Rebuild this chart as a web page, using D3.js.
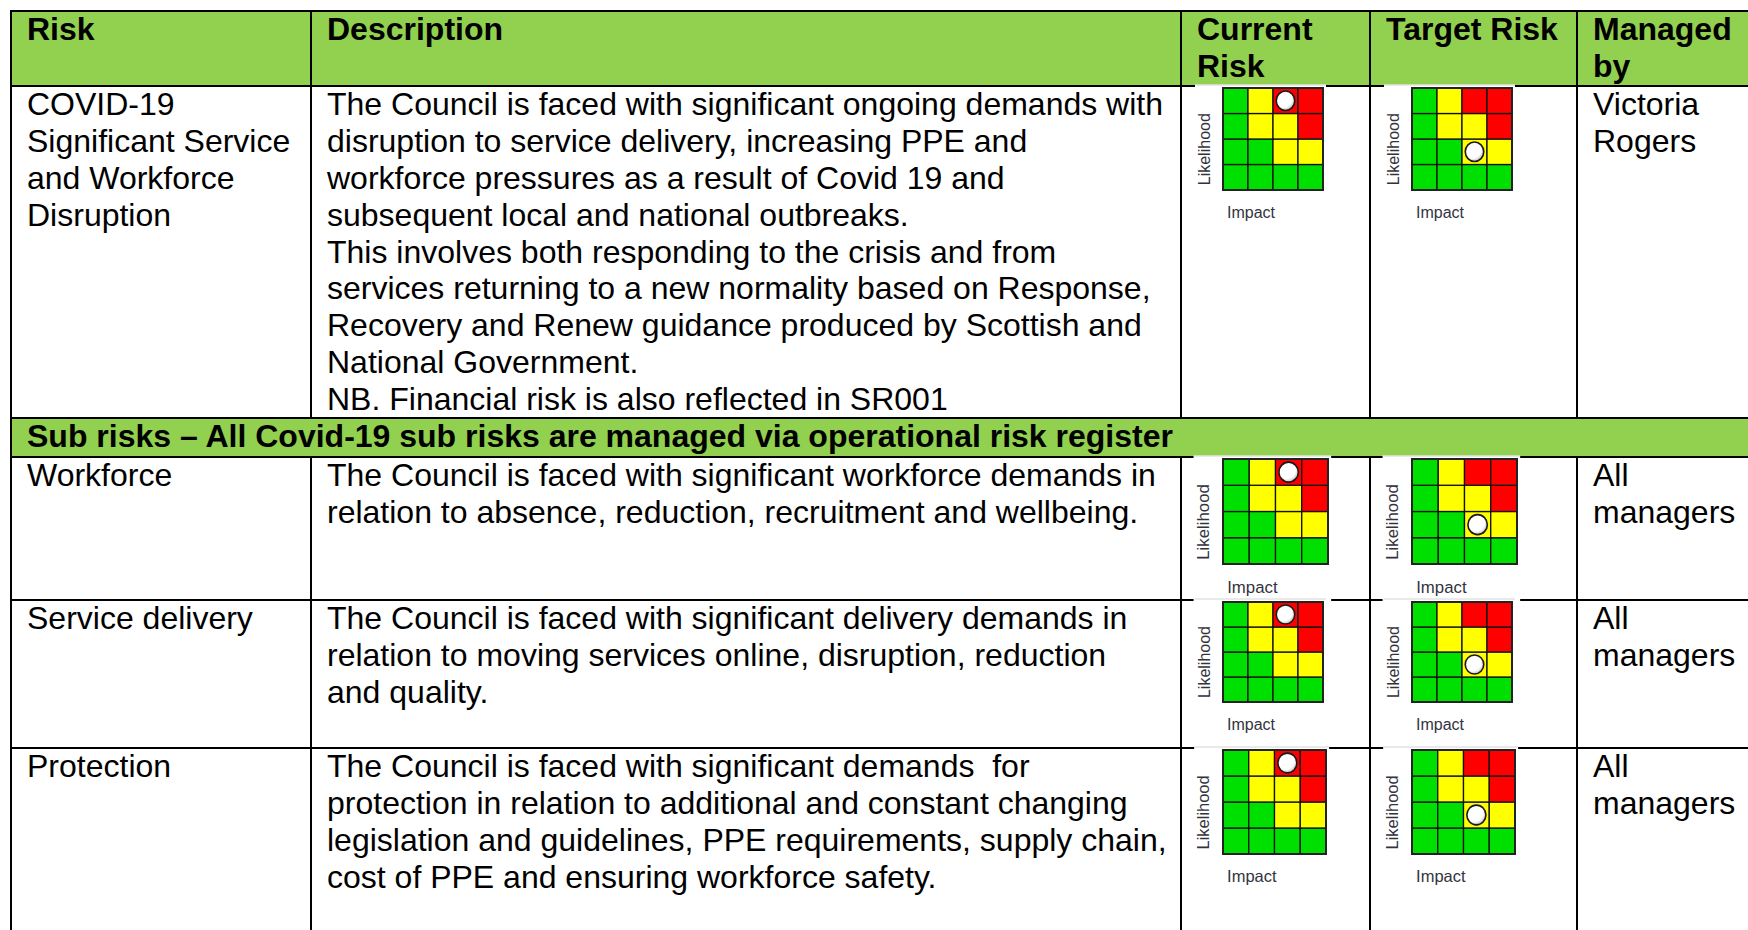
<!DOCTYPE html>
<html>
<head>
<meta charset="utf-8">
<script src="https://cdnjs.cloudflare.com/ajax/libs/d3/7.8.5/d3.min.js"></script>
<style>
    body { margin: 0; background: #fff; }
    svg { display: block; font-family: 'Liberation Sans', Arial, sans-serif; }
</style>
</head>
<body>
<div id="register"></div>
<script>
var headerLines = [['Risk'], ['Description'], ['Current', 'Risk'], ['Target Risk'], ['Managed', 'by']];

var subRiskTitle = 'Sub risks \u2013 All Covid-19 sub risks are managed via operational risk register';

var riskNames = [
    ['COVID-19', 'Significant Service', 'and Workforce', 'Disruption'],
    ['Workforce'],
    ['Service delivery'],
    ['Protection']
];

var descriptions = [
    ['The Council is faced with significant ongoing demands with',
     'disruption to service delivery, increasing PPE and',
     'workforce pressures as a result of Covid 19 and',
     'subsequent local and national outbreaks.',
     'This involves both responding to the crisis and from',
     'services returning to a new normality based on Response,',
     'Recovery and Renew guidance produced by Scottish and',
     'National Government.',
     'NB. Financial risk is also reflected in SR001'],
    ['The Council is faced with significant workforce demands in',
     'relation to absence, reduction, recruitment and wellbeing.'],
    ['The Council is faced with significant delivery demands in',
     'relation to moving services online, disruption, reduction',
     'and quality.'],
    ['The Council is faced with significant demands\u00a0 for',
     'protection in relation to additional and constant changing',
     'legislation and guidelines, PPE requirements, supply chain,',
     'cost of PPE and ensuring workforce safety.']
];

var managers = [['Victoria', 'Rogers'], ['All', 'managers'], ['All', 'managers'], ['All', 'managers']];

// [likelihood, impact]
var currentRisk = [[4, 3], [4, 3], [4, 3], [4, 3]];
var targetRisk = [[2, 3], [2, 3], [2, 3], [2, 3]];

var levels = [1, 2, 3, 4];

// rows: likelihood 4 down to 1, columns: impact 1 to 4
var ratings = [
    ['low', 'medium', 'high', 'high'],
    ['low', 'medium', 'medium', 'high'],
    ['low', 'low', 'medium', 'medium'],
    ['low', 'low', 'low', 'low']
];

var ratingColours = { low: '#00e000', medium: '#ffff00', high: '#ff0000' };

var width = 1748, height = 930;
var green = '#92d050';
var fontSize = 32, lineHeight = 36.8, firstLine = 29.3, pad = 16;

var colEdges = [11, 311, 1181, 1370, 1577, width];
// header, covid row, sub risk band, workforce, service delivery, protection
var rowEdges = [11, 86, 418, 457, 600, 748, 990];
var bodySlots = [1, 3, 4, 5];

// matrix picture sizes per body row [w, h] and offset inside its cell
var matrixSizes = [[100, 102], [105, 105], [100, 100], [103, 104]];
var matrixLeft = 42, matrixTop = 2;

var svg = d3.select('#register')
    .append('svg')
    .attr('width', width)
    .attr('height', height);

var defs = svg.append('defs');
var dotGrad = defs.append('radialGradient')
    .attr('id', 'dotGradient')
    .attr('cx', '40%')
    .attr('cy', '38%')
    .attr('r', '65%');
dotGrad.append('stop').attr('offset', '0%').attr('stop-color', '#ffffff');
dotGrad.append('stop').attr('offset', '70%').attr('stop-color', '#ffffff');
dotGrad.append('stop').attr('offset', '100%').attr('stop-color', '#b8b8b8');

svg.append('rect')
    .attr('width', width)
    .attr('height', height)
    .attr('fill', '#fff');

// green bands
svg.append('rect')
    .attr('x', colEdges[0])
    .attr('y', rowEdges[0])
    .attr('width', width - colEdges[0])
    .attr('height', rowEdges[1] - rowEdges[0])
    .attr('fill', green);

svg.append('rect')
    .attr('x', colEdges[0])
    .attr('y', rowEdges[2])
    .attr('width', width - colEdges[0])
    .attr('height', rowEdges[3] - rowEdges[2])
    .attr('fill', green);

// grid lines
var lines = svg.append('g')
    .attr('stroke', '#000')
    .attr('stroke-width', 2);

lines.selectAll('.h-line')
    .data(rowEdges.slice(0, 6))
    .enter()
    .append('line')
    .attr('x1', colEdges[0] - 1)
    .attr('x2', width)
    .attr('y1', function(d) { return d; })
    .attr('y2', function(d) { return d; });

lines.append('line')
    .attr('x1', colEdges[0])
    .attr('x2', colEdges[0])
    .attr('y1', rowEdges[0])
    .attr('y2', height);

var splitRows = [0, 1, 3, 4, 5];
var segments = [];
colEdges.slice(1, 5).forEach(function(x) {
    splitRows.forEach(function(r) {
        segments.push({ x: x, y1: rowEdges[r], y2: Math.min(rowEdges[r + 1], height) });
    });
});

lines.selectAll('.v-line')
    .data(segments)
    .enter()
    .append('line')
    .attr('x1', function(d) { return d.x; })
    .attr('x2', function(d) { return d.x; })
    .attr('y1', function(d) { return d.y1; })
    .attr('y2', function(d) { return d.y2; });

function writeLines(x, top, textLines, bold) {
    var text = svg.append('text')
        .attr('font-size', fontSize)
        .attr('font-weight', bold ? 'bold' : 'normal')
        .attr('fill', '#000');

    text.selectAll('tspan')
        .data(textLines)
        .enter()
        .append('tspan')
        .attr('x', x)
        .attr('y', function(d, i) { return top + firstLine + i * lineHeight; })
        .text(function(d) { return d; });
}

headerLines.forEach(function(h, i) {
    writeLines(colEdges[i] + pad, rowEdges[0], h, true);
});

writeLines(colEdges[0] + pad, rowEdges[2], [subRiskTitle], true);

bodySlots.forEach(function(slot, i) {
    var top = rowEdges[slot];
    writeLines(colEdges[0] + pad, top, riskNames[i], false);
    writeLines(colEdges[1] + pad, top, descriptions[i], false);
    writeLines(colEdges[4] + pad, top, managers[i], false);

    drawMatrix(colEdges[2] + matrixLeft, top, matrixSizes[i], currentRisk[i]);
    drawMatrix(colEdges[3] + matrixLeft, top, matrixSizes[i], targetRisk[i]);
});

function drawMatrix(left, rowTop, size, score) {
    var w = size[0], h = size[1], k = w / 100;
    var top = rowTop + matrixTop;

    var x = d3.scaleBand().domain(levels).range([left, left + w]);
    var y = d3.scaleBand().domain(levels.slice().reverse()).range([top, top + h]);

    var g = svg.append('g');

    // picture background sits over the row border
    g.append('rect')
        .attr('x', left - 28 * k)
        .attr('y', rowTop - 1.5)
        .attr('width', w + 31 * k)
        .attr('height', h * 1.4)
        .attr('fill', '#fff');
    g.append('line')
        .attr('x1', left - 28 * k)
        .attr('x2', left + w + 3 * k)
        .attr('y1', rowTop - 1)
        .attr('y2', rowTop - 1)
        .attr('stroke', '#d4d4d4')
        .attr('stroke-width', 1);

    var cells = [];
    levels.forEach(function(l) {
        levels.forEach(function(im) {
            cells.push({ likelihood: l, impact: im, rating: ratings[4 - l][im - 1] });
        });
    });

    g.selectAll('.cell')
        .data(cells)
        .enter()
        .append('rect')
        .attr('x', function(d) { return x(d.impact); })
        .attr('y', function(d) { return y(d.likelihood); })
        .attr('width', x.bandwidth())
        .attr('height', y.bandwidth())
        .attr('fill', function(d) { return ratingColours[d.rating]; })
        .attr('stroke', '#111')
        .attr('stroke-width', 1.3);

    g.append('rect')
        .attr('x', left)
        .attr('y', top)
        .attr('width', w)
        .attr('height', h)
        .attr('fill', 'none')
        .attr('stroke', '#222')
        .attr('stroke-width', 2);

    g.append('ellipse')
        .attr('cx', x(score[1]) + x.bandwidth() / 2)
        .attr('cy', y(score[0]) + y.bandwidth() / 2)
        .attr('rx', x.bandwidth() * 0.37)
        .attr('ry', y.bandwidth() * 0.38)
        .attr('fill', 'url(#dotGradient)')
        .attr('stroke', '#1a1a1a')
        .attr('stroke-width', 1.6);

    g.append('text')
        .attr('transform', 'translate(' + (left - 19 * k) + ',' + (top + h * 0.6) + ') rotate(-90)')
        .attr('text-anchor', 'middle')
        .attr('dominant-baseline', 'central')
        .attr('font-size', 16 * k)
        .attr('fill', '#33333d')
        .text('Likelihood');

    g.append('text')
        .attr('x', left + 4 * k)
        .attr('y', top + h + h * 0.22 + 5.5)
        .attr('font-size', 16 * k)
        .attr('fill', '#33333d')
        .text('Impact');
}
</script>
</body>
</html>
